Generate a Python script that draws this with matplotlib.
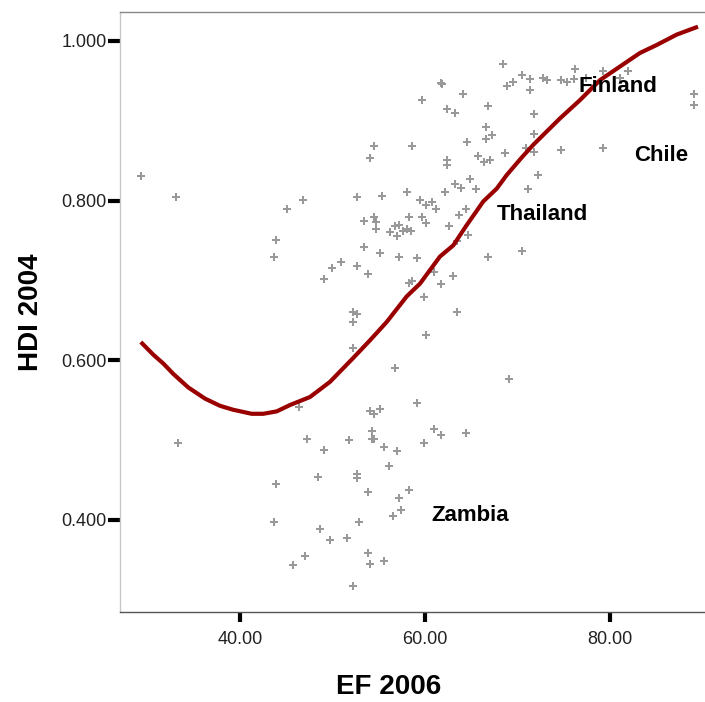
import matplotlib
matplotlib.use('Agg')
import matplotlib.pyplot as plt

# EF 2006 (x) and HDI 2004 (y) for each country
ef_2006 = [
    29.30, 33.11, 45.05, 46.84, 43.92, 43.68, 54.49, 54.05, 58.56, 52.65,
    55.38, 58.09, 59.43, 54.49, 53.37, 54.70, 54.70, 58.30, 56.27, 56.76,
    57.19, 56.97, 57.62, 58.09, 58.52, 53.37, 55.17, 57.19, 59.19, 50.89,
    49.98, 52.68, 49.08, 53.81, 58.30, 58.56, 68.43, 61.76, 61.87, 64.16,
    59.68, 68.83, 69.55, 70.49, 71.35, 71.35, 72.72, 73.16, 74.74, 75.38,
    76.08, 76.25, 77.41, 79.21, 81.08, 81.91, 89.11, 89.11, 62.38, 63.28,
    66.84, 71.78, 66.62, 67.28, 66.62, 64.59, 71.78, 70.89, 71.78, 74.74,
    79.21, 68.65, 65.73, 62.38, 62.38, 66.40, 67.06, 72.25, 71.14, 64.83,
    63.28, 63.92, 65.51, 62.13, 60.11, 60.79, 61.22, 59.68, 60.11, 63.71,
    64.40, 62.57, 64.62, 66.84, 70.49, 63.51, 61.01, 63.01, 61.70, 59.89,
    52.25, 52.68, 52.25, 52.25, 56.76, 59.17, 46.38, 54.02, 54.49, 55.17,
    33.30, 47.28, 49.08, 51.78, 54.27, 54.27, 54.49, 55.60, 56.94, 56.08,
    43.92, 48.43, 52.68, 52.68, 53.81, 58.30, 57.19, 57.44, 56.51, 43.68,
    48.65, 52.90, 49.76, 51.57, 47.06, 45.73, 53.81, 54.02, 55.60, 52.25,
    63.49, 60.11, 69.08, 61.01, 61.70, 64.40, 59.89,
]
hdi_2004 = [
    0.831, 0.804, 0.790, 0.801, 0.751, 0.730, 0.869, 0.853, 0.869, 0.804,
    0.806, 0.811, 0.801, 0.780, 0.775, 0.773, 0.765, 0.780, 0.761, 0.768,
    0.770, 0.756, 0.762, 0.765, 0.762, 0.742, 0.734, 0.730, 0.728, 0.723,
    0.715, 0.718, 0.702, 0.708, 0.697, 0.699, 0.971, 0.947, 0.946, 0.934,
    0.926, 0.944, 0.949, 0.957, 0.952, 0.939, 0.954, 0.951, 0.951, 0.949,
    0.952, 0.965, 0.954, 0.962, 0.954, 0.962, 0.934, 0.920, 0.915, 0.910,
    0.918, 0.908, 0.892, 0.882, 0.877, 0.874, 0.884, 0.866, 0.861, 0.863,
    0.866, 0.860, 0.856, 0.851, 0.845, 0.848, 0.851, 0.832, 0.814, 0.827,
    0.821, 0.816, 0.814, 0.811, 0.795, 0.798, 0.790, 0.780, 0.772, 0.782,
    0.790, 0.768, 0.757, 0.730, 0.737, 0.749, 0.710, 0.705, 0.696, 0.679,
    0.660, 0.658, 0.648, 0.616, 0.590, 0.546, 0.541, 0.536, 0.533, 0.539,
    0.497, 0.502, 0.488, 0.500, 0.512, 0.502, 0.502, 0.491, 0.486, 0.468,
    0.445, 0.454, 0.458, 0.452, 0.435, 0.437, 0.428, 0.413, 0.405, 0.397,
    0.389, 0.397, 0.375, 0.377, 0.355, 0.343, 0.358, 0.345, 0.348, 0.317,
    0.660, 0.632, 0.577, 0.514, 0.507, 0.509, 0.497,
]

# fitted line (loess-like)
fit_x = [29.44, 30.63, 31.71, 32.79, 34.41, 36.22, 37.84, 39.28, 41.26, 42.52,
         43.97, 45.41, 47.57, 49.73, 50.99, 52.25, 54.05, 55.86, 58.02, 59.46,
         60.54, 61.62, 63.06, 64.43, 66.30, 67.75, 68.83, 70.38, 71.71, 74.59,
         76.76, 78.92, 81.08, 83.24, 85.05, 87.21, 89.30]
fit_y = [0.621, 0.607, 0.596, 0.583, 0.566, 0.552, 0.543, 0.538, 0.533, 0.533,
         0.536, 0.544, 0.554, 0.573, 0.588, 0.603, 0.625, 0.648, 0.680, 0.696,
         0.713, 0.730, 0.744, 0.768, 0.799, 0.815, 0.832, 0.853, 0.870, 0.903,
         0.926, 0.951, 0.968, 0.985, 0.995, 1.008, 1.017]

# labelled countries
countries = ['Finland', 'Chile', 'Thailand', 'Zambia']
label_x = [76.57, 82.59, 67.75, 60.72]
label_y = [0.9436, 0.8566, 0.7824, 0.4056]

x_ticks = [40, 60, 80]
y_ticks = [0.4, 0.6, 0.8, 1.0]

plt.rcParams['font.family'] = ['Liberation Sans', 'DejaVu Sans']

fig = plt.figure(figsize=(7.05, 7.02), dpi=100)
ax = fig.add_axes([0.1702, 0.1282, 0.8298, 0.8547])

ax.scatter(ef_2006, hdi_2004, marker='P', s=30, color='#999999', linewidths=0, zorder=2)
ax.plot(fit_x, fit_y, color='#990000', linewidth=3, zorder=3)

for name, lx, ly in zip(countries, label_x, label_y):
    ax.text(lx, ly, name, fontsize=16, fontweight='bold', ha='left', va='center', zorder=4)

ax.set_xlim(27.03, 90.27)
ax.set_ylim(0.2847, 1.0363)
ax.set_xticks(x_ticks)
ax.set_yticks(y_ticks)
ax.set_xticklabels([f'{v:.2f}' for v in x_ticks])
ax.set_yticklabels([f'{v:.3f}' for v in y_ticks])

ax.tick_params(axis='x', direction='out', length=7.5, width=3, color='black',
               labelsize=13, pad=6, labelcolor='#222222')
ax.tick_params(axis='y', direction='out', length=8.5, width=3, color='black',
               labelsize=13, pad=1, labelcolor='#222222')

ax.spines['right'].set_visible(False)
ax.spines['top'].set_color('#888888')
ax.spines['left'].set_color('#c8c8c8')
ax.spines['bottom'].set_color('#555555')
for s in ['top', 'left', 'bottom']:
    ax.spines[s].set_linewidth(1)

fig.text(389 / 705, 1 - 687 / 702, 'EF 2006', fontsize=20, fontweight='bold',
         ha='center', va='center')
fig.text(31 / 705, 1 - 312 / 702, 'HDI 2004', fontsize=20, fontweight='bold',
         ha='center', va='center', rotation=90)

fig.savefig('out.png', dpi=100)
